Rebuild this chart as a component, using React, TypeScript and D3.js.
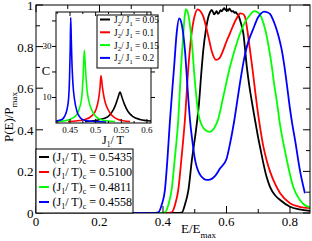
import React from "react";
import * as d3 from "d3";

type Pt = [number, number];

// Main panel: P(E)/Pmax vs E/Emax
const blackCurve: Pt[] = [
  [0, 0], [0.44, 0], [0.459, 0.002], [0.469, 0.04], [0.48, 0.11], [0.491, 0.255], [0.504, 0.4], [0.513, 0.52],
  [0.52, 0.66], [0.527, 0.784], [0.535, 0.88], [0.543, 0.944], [0.548, 0.965], [0.553, 0.976], [0.557, 0.968],
  [0.561, 0.955], [0.565, 0.962], [0.569, 0.97], [0.573, 0.958], [0.577, 0.963], [0.581, 0.975], [0.585, 0.97],
  [0.589, 0.978], [0.593, 0.985], [0.597, 0.976], [0.601, 0.98], [0.605, 0.972], [0.609, 0.983], [0.613, 0.975],
  [0.617, 0.968], [0.621, 0.971], [0.625, 0.962], [0.629, 0.966], [0.633, 0.958], [0.637, 0.952], [0.645, 0.915],
  [0.653, 0.864], [0.664, 0.703], [0.672, 0.61], [0.679, 0.543], [0.686, 0.48], [0.693, 0.42], [0.7, 0.36],
  [0.708, 0.3], [0.716, 0.24], [0.726, 0.175], [0.737, 0.126], [0.753, 0.085], [0.769, 0.0625], [0.8, 0.03],
  [0.83, 0.017], [0.863, 0.01],
];
const redCurve: Pt[] = [
  [0, 0], [0.41, 0], [0.427, 0.003], [0.438, 0.04], [0.448, 0.11], [0.458, 0.26], [0.469, 0.447], [0.48, 0.703],
  [0.49, 0.864], [0.5, 0.95], [0.509, 0.979], [0.518, 0.97], [0.527, 0.944], [0.535, 0.9], [0.543, 0.848],
  [0.555, 0.77], [0.567, 0.736], [0.578, 0.745], [0.59, 0.784], [0.6, 0.825], [0.611, 0.864], [0.622, 0.905],
  [0.632, 0.936], [0.643, 0.96], [0.651, 0.958], [0.658, 0.944], [0.666, 0.875], [0.674, 0.784], [0.682, 0.69],
  [0.69, 0.59], [0.7, 0.47], [0.708, 0.39], [0.716, 0.32], [0.727, 0.25], [0.737, 0.2], [0.753, 0.14],
  [0.769, 0.095], [0.8, 0.047], [0.83, 0.03], [0.863, 0.023],
];
const greenCurve: Pt[] = [
  [0, 0], [0.39, 0], [0.406, 0.003], [0.417, 0.04], [0.427, 0.11], [0.437, 0.26], [0.448, 0.447], [0.457, 0.703],
  [0.464, 0.864], [0.468, 0.94], [0.472, 0.98], [0.477, 0.97], [0.483, 0.925], [0.49, 0.832], [0.501, 0.624],
  [0.511, 0.48], [0.52, 0.43], [0.532, 0.4], [0.548, 0.39], [0.56, 0.405], [0.573, 0.447], [0.59, 0.56],
  [0.611, 0.703], [0.627, 0.79], [0.643, 0.864], [0.659, 0.92], [0.674, 0.952], [0.687, 0.971], [0.698, 0.965],
  [0.706, 0.952], [0.717, 0.91], [0.727, 0.848], [0.735, 0.78], [0.743, 0.703], [0.75, 0.62], [0.758, 0.543],
  [0.769, 0.42], [0.78, 0.33], [0.79, 0.255], [0.81, 0.126], [0.831, 0.0625], [0.845, 0.04], [0.863, 0.027],
];
const blueCurve: Pt[] = [
  [0, 0], [0.37, 0], [0.385, 0.003], [0.396, 0.04], [0.406, 0.11], [0.414, 0.26], [0.422, 0.447], [0.435, 0.703],
  [0.443, 0.864], [0.451, 0.936], [0.457, 0.92], [0.463, 0.87], [0.469, 0.784], [0.48, 0.543], [0.485, 0.447],
  [0.493, 0.34], [0.501, 0.255], [0.517, 0.183], [0.528, 0.165], [0.538, 0.159], [0.55, 0.162], [0.565, 0.18],
  [0.58, 0.215], [0.6, 0.26], [0.612, 0.34], [0.624, 0.44], [0.635, 0.55], [0.643, 0.63], [0.658, 0.76],
  [0.67, 0.83], [0.683, 0.88], [0.699, 0.94], [0.709, 0.96], [0.719, 0.968], [0.728, 0.965], [0.737, 0.957],
  [0.745, 0.935], [0.753, 0.904], [0.764, 0.85], [0.774, 0.784], [0.782, 0.71], [0.79, 0.62], [0.8, 0.5],
  [0.808, 0.42], [0.816, 0.35], [0.831, 0.207], [0.847, 0.095],
];

// Inset: C vs J1/T
const blackInset: Pt[] = [
  [0.4792, 0.6], [0.5085, 1.4], [0.5241, 2.5], [0.5338, 4.9], [0.5397, 7.6], [0.5436, 10], [0.5475, 12.1],
  [0.5514, 10], [0.5562, 7.3], [0.5631, 4.5], [0.5728, 2.5], [0.5864, 1.4], [0.6079, 0.8],
];
const redInset: Pt[] = [
  [0.4461, 0.6], [0.4792, 1.4], [0.4929, 2.9], [0.5007, 5.3], [0.5055, 9.2], [0.5085, 13.9], [0.5104, 18.6],
  [0.5133, 13.9], [0.5172, 9.2], [0.5241, 5.3], [0.5319, 2.9], [0.5436, 1.4], [0.5669, 0.6],
];
const greenInset: Pt[] = [
  [0.4266, 0.6], [0.45, 1.4], [0.4617, 2.9], [0.4675, 5.3], [0.4724, 9.2], [0.4753, 17], [0.4779, 28.5],
  [0.4802, 21], [0.4831, 13.1], [0.487, 8.4], [0.4929, 4.9], [0.5007, 2.5], [0.5124, 1.2], [0.5377, 0.6],
];
const blueInset: Pt[] = [
  [0.4227, 0.8], [0.4344, 1.4], [0.4402, 2.9], [0.4441, 5.3], [0.4471, 9.2], [0.449, 17], [0.4504, 28.8],
  [0.4514, 41.3], [0.4525, 32.7], [0.4539, 22.9], [0.4558, 15.1], [0.4588, 9.2], [0.4636, 4.5], [0.4695, 2.2],
  [0.4792, 1], [0.4987, 0.6], [0.52, 0.4],
];

const colors = ["#000000", "#ff0000", "#00ff00", "#0000ff"];
const mainSeries = [blackCurve, redCurve, greenCurve, blueCurve];
const insetSeries = [blackInset, redInset, greenInset, blueInset];
const tcLabels = ["0.5435", "0.5100", "0.4811", "0.4558"];
const ratioLabels = ["0.05", "0.1", "0.15", "0.2"];
const mainXTicks = [0, 0.2, 0.4, 0.6, 0.8];
const mainXMinor = [0.1, 0.3, 0.5, 0.7];
const mainYTicks = [0, 0.2, 0.4, 0.6, 0.8, 1];
const mainYMinor = [0.1, 0.3, 0.5, 0.7, 0.9];
const insetXTicks = [0.45, 0.5, 0.55, 0.6];
const insetXMinor = [0.425, 0.475, 0.525, 0.575];
const insetYTicks = [10, 20, 30, 40];
const insetYLabels = [10, 30];

const FONT = "'Liberation Serif', 'Times New Roman', serif";

export default function App() {
  const mx = d3.scaleLinear().domain([0, 0.863]).range([36, 310]);
  const my = d3.scaleLinear().domain([0, 1]).range([213, 5]);
  const ix = d3.scaleLinear().domain([0.4227, 0.6079]).range([56, 151]);
  const iy = d3.scaleLinear().domain([0, 43.5]).range([123, 12]);

  const mline = d3.line<Pt>().x((d) => mx(d[0])).y((d) => my(d[1])).curve(d3.curveMonotoneX);
  const iline = d3.line<Pt>().x((d) => ix(d[0])).y((d) => iy(d[1])).curve(d3.curveMonotoneX);

  const [mL, mR] = mx.range();
  const [mB, mT] = my.range();
  const [iL, iR] = ix.range();
  const [iB, iT] = iy.range();

  return (
    <svg width={312} height={241} style={{ position: "absolute", left: 0, top: 0, background: "#fff" }} fontFamily={FONT}>
      <rect x={0} y={0} width={312} height={241} fill="#fff" />
      <defs>
        <clipPath id="mainClip">
          <rect x={mL} y={mT} width={mR - mL} height={mB - mT} />
        </clipPath>
      </defs>
      <g clipPath="url(#mainClip)">
        {mainSeries.map((s, i) => (
          <path key={i} d={mline(s) || ""} fill="none" stroke={colors[i]} strokeWidth={1.8} />
        ))}
      </g>
      <rect x={mL} y={mT} width={mR - mL} height={mB - mT} fill="none" stroke="#000" strokeWidth={1} />
      {mainXTicks.map((t) => (
        <g key={"mx" + t}>
          <line x1={mx(t)} x2={mx(t)} y1={mB} y2={mB - 7} stroke="#000" />
          <line x1={mx(t)} x2={mx(t)} y1={mT} y2={mT + 7} stroke="#000" />
          <text x={mx(t)} y={225.5} fontSize={13} textAnchor="middle">{String(t)}</text>
        </g>
      ))}
      {mainXMinor.map((t) => (
        <g key={"mxm" + t}>
          <line x1={mx(t)} x2={mx(t)} y1={mB} y2={mB - 4} stroke="#000" />
          <line x1={mx(t)} x2={mx(t)} y1={mT} y2={mT + 4} stroke="#000" />
        </g>
      ))}
      {mainYTicks.map((t) => (
        <g key={"my" + t}>
          <line x1={mL} x2={mL + 7} y1={my(t)} y2={my(t)} stroke="#000" />
          <line x1={mR} x2={mR - 7} y1={my(t)} y2={my(t)} stroke="#000" />
          <text x={33.5} y={my(t) + 5} fontSize={13} textAnchor="end">{String(t)}</text>
        </g>
      ))}
      {mainYMinor.map((t) => (
        <g key={"mym" + t}>
          <line x1={mL} x2={mL + 4} y1={my(t)} y2={my(t)} stroke="#000" />
          <line x1={mR} x2={mR - 4} y1={my(t)} y2={my(t)} stroke="#000" />
        </g>
      ))}
      <text x={198.5} y={233} fontSize={13} textAnchor="middle">
        E/E<tspan fontSize={9} dy={5}>max</tspan>
      </text>
      <text transform="translate(13,117) rotate(-90)" fontSize={13} textAnchor="middle">
        P(E)/P<tspan fontSize={9} dy={4}>max</tspan>
      </text>

      {/* main legend */}
      <rect x={36} y={149} width={97} height={64} fill="#fff" stroke="#000" strokeWidth={1} />
      {tcLabels.map((lab, i) => {
        const by = 161 + i * 15;
        return (
          <g key={"lg" + i}>
            <line x1={39} x2={49} y1={by - 4} y2={by - 4} stroke={colors[i]} strokeWidth={2} />
            <text x={52.5} y={by} fontSize={12}>
              (J<tspan fontSize={8} dy={3}>1</tspan>
              <tspan dy={-3}>/ T)</tspan>
              <tspan fontSize={8} dy={3}>c</tspan>
              <tspan dy={-3}>{" = " + lab}</tspan>
            </text>
          </g>
        );
      })}

      {/* inset */}
      <rect x={iL} y={iT} width={iR - iL} height={iB - iT} fill="#fff" stroke="none" />
      <defs>
        <clipPath id="insetClip">
          <rect x={iL} y={iT} width={iR - iL} height={iB - iT} />
        </clipPath>
      </defs>
      <g clipPath="url(#insetClip)">
        {insetSeries.map((s, i) => (
          <path key={i} d={iline(s) || ""} fill="none" stroke={colors[i]} strokeWidth={1.6} />
        ))}
      </g>
      <rect x={iL} y={iT} width={iR - iL} height={iB - iT} fill="none" stroke="#000" strokeWidth={1} />
      {insetXTicks.map((t) => (
        <g key={"ix" + t}>
          <line x1={ix(t)} x2={ix(t)} y1={iB} y2={iB - 4} stroke="#000" />
          <line x1={ix(t)} x2={ix(t)} y1={iT} y2={iT + 4} stroke="#000" />
          <text x={ix(t)} y={132.5} fontSize={9} textAnchor="middle">{String(t)}</text>
        </g>
      ))}
      {insetXMinor.map((t) => (
        <g key={"ixm" + t}>
          <line x1={ix(t)} x2={ix(t)} y1={iB} y2={iB - 2} stroke="#000" />
          <line x1={ix(t)} x2={ix(t)} y1={iT} y2={iT + 2} stroke="#000" />
        </g>
      ))}
      {insetYTicks.map((t) => (
        <g key={"iy" + t}>
          <line x1={iL} x2={iL - 4} y1={iy(t)} y2={iy(t)} stroke="#000" />
          <line x1={iR} x2={iR + 4} y1={iy(t)} y2={iy(t)} stroke="#000" />
        </g>
      ))}
      {insetYLabels.map((t) => (
        <text key={"iyl" + t} x={51.5} y={iy(t) + 3} fontSize={9} textAnchor="end">{String(t)}</text>
      ))}
      <text x={46} y={75} fontSize={12.5} textAnchor="middle">C</text>
      <text x={113} y={144} fontSize={12} textAnchor="middle">
        J<tspan fontSize={7.5} dy={2.5}>1</tspan>
        <tspan dy={-2.5}>/ T</tspan>
      </text>

      {/* inset legend */}
      <rect x={97} y={15} width={61} height={53} fill="#fff" stroke="#000" strokeWidth={1} />
      {ratioLabels.map((lab, i) => {
        const by = 23 + i * 12.8;
        return (
          <g key={"il" + i}>
            <line x1={100} x2={110} y1={by - 3.5} y2={by - 3.5} stroke={colors[i]} strokeWidth={2} />
            <text x={114} y={by} fontSize={9.3}>
              J<tspan fontSize={6.5} dy={2.5}>2</tspan>
              <tspan dy={-2.5}>/ J</tspan>
              <tspan fontSize={6.5} dy={2.5}>1</tspan>
              <tspan dy={-2.5}>{" = " + lab}</tspan>
            </text>
          </g>
        );
      })}
    </svg>
  );
}
